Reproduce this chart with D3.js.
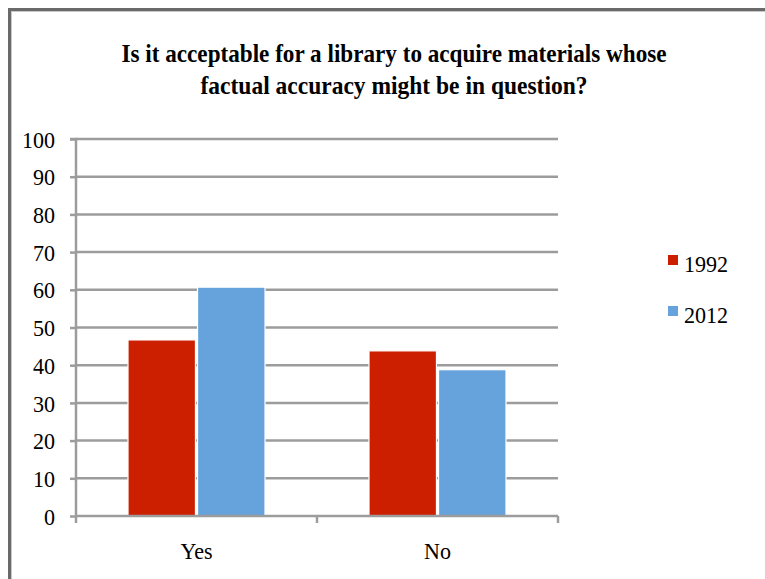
<!DOCTYPE html>
<html><head><meta charset="utf-8">
<script src="https://cdn.jsdelivr.net/npm/d3@7"></script>
<style>body{margin:0;background:#fff;} svg{display:block;}</style>
</head><body>
<svg id="c" width="765" height="579"></svg>
<script>
const categories = ["Yes", "No"];
const seriesNames = ["1992", "2012"];
const values1992 = [46.7, 43.8];
const values2012 = [60.7, 38.8];
const yTicks = [0,10,20,30,40,50,60,70,80,90,100];
const titleLines = ["Is it acceptable for a library to acquire materials whose", "factual accuracy might be in question?"];
const colors = ["#CC1F00", "#66A3DD"];

(function () {
const FONT = '"Times New Roman", "Liberation Serif", "DejaVu Serif", serif';
const SX = 0.92;
const svg = d3.select("#c");

// outer frame
svg.append("rect").attr("x", 9.5).attr("y", 9.5).attr("width", 800).attr("height", 600)
  .attr("fill", "#fff").attr("stroke", "#6a6a6a").attr("stroke-width", 3);
svg.append("rect").attr("x", 11.5).attr("y", 11.5).attr("width", 800).attr("height", 600)
  .attr("fill", "none").attr("stroke", "#c8c8c8").attr("stroke-width", 1);

const pL = 76, pR = 558, pT = 139, pB = 516;
const x0 = d3.scaleBand().domain(categories).range([pL, pR]).paddingInner(0).paddingOuter(0);
const x1 = d3.scaleBand().domain(seriesNames).range([52, x0.bandwidth() - 52]).paddingInner(0.03).paddingOuter(0);
const y = d3.scaleLinear().domain([0, 100]).range([pB, pT]);

// gridlines
svg.append("g").selectAll("line").data(yTicks.filter(d => d > 0)).join("line")
  .attr("x1", pL).attr("x2", pR).attr("y1", d => y(d)).attr("y2", d => y(d))
  .attr("stroke", "#9c9c9c").attr("stroke-width", 2.5);

// y axis
const yAxis = d3.axisLeft(y).tickValues(yTicks).tickSize(6).tickPadding(0);
const gy = svg.append("g").attr("transform", `translate(${pL},0)`).call(yAxis);
gy.select(".domain").attr("stroke", "#9c9c9c").attr("stroke-width", 2.5).attr("d", `M-6,${pT}H0V${pB}`);
gy.selectAll(".tick line").attr("stroke", "#9c9c9c").attr("stroke-width", 2.5);
gy.selectAll(".tick text").attr("x", 0).attr("transform", `translate(-21,0) scale(${SX},1)`)
  .style("font-family", FONT).style("font-size", "24px").attr("fill", "#000").attr("dy", "0.34em");

// bars
const data = categories.map((c, i) => ({cat: c, vals: [values1992[i], values2012[i]]}));
const g = svg.append("g");
data.forEach(d => {
  g.selectAll(null).data(d.vals.map((v, j) => ({s: seriesNames[j], v, j}))).join("rect")
    .attr("x", e => x0(d.cat) + x1(e.s))
    .attr("y", e => y(e.v))
    .attr("width", x1.bandwidth())
    .attr("height", e => y(0) - y(e.v))
    .attr("fill", e => colors[e.j])
    .attr("stroke", "#fff").attr("stroke-width", 1.2);
});

// x axis
const xAxis = d3.axisBottom(x0).tickSize(0).tickPadding(0);
const gx = svg.append("g").attr("transform", `translate(0,${pB})`).call(xAxis);
gx.select(".domain").attr("stroke", "#9c9c9c").attr("stroke-width", 2.5).attr("d", `M${pL},0H${pR}`);
gx.selectAll(".tick text").attr("y", 0).attr("dy", null).attr("transform", `translate(0,43) scale(${SX},1)`)
  .style("font-family", FONT).style("font-size", "24px").attr("fill", "#000");
svg.append("g").selectAll("line").data([pL, (pL + pR) / 2, pR]).join("line")
  .attr("x1", d => d).attr("x2", d => d).attr("y1", pB).attr("y2", pB + 7)
  .attr("stroke", "#9c9c9c").attr("stroke-width", 2.5);

// title
const tl = [{t: titleLines[0], y: 62, w: 545}, {t: titleLines[1], y: 94, w: 387}];
svg.append("g").selectAll("text").data(tl).join("text")
  .attr("x", 394).attr("y", d => d.y).attr("text-anchor", "middle")
  .style("font-family", FONT).style("font-weight", "bold").style("font-size", "25px")
  .attr("textLength", d => d.w).attr("lengthAdjust", "spacingAndGlyphs")
  .text(d => d.t);

// legend
const lg = svg.append("g").attr("transform", "translate(668,255)");
seriesNames.forEach((s, i) => {
  lg.append("rect").attr("x", 0).attr("y", i * 51).attr("width", 10).attr("height", 10).attr("fill", colors[i]);
  lg.append("text").attr("transform", `translate(16,${i * 51 + 17}) scale(${SX},1)`)
    .style("font-family", FONT).style("font-size", "24px").text(s);
});
})();
</script>
</body></html>
